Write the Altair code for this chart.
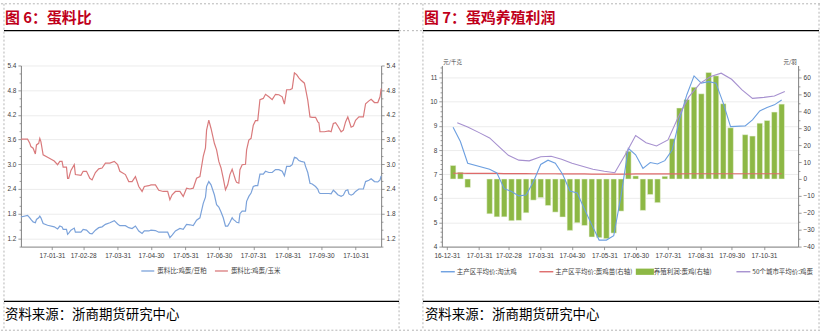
import altair as alt
import pandas as pd

# ---------------- Figure 6: 蛋料比 (daily) ----------------
L_dates = ["2017-01-03","2017-01-09","2017-01-11","2017-01-12","2017-01-14","2017-01-16","2017-01-17","2017-01-19","2017-01-20","2017-01-21",
           "2017-01-23","2017-01-27","2017-02-02","2017-02-05","2017-02-07","2017-02-09","2017-02-10","2017-02-13","2017-02-14","2017-02-15",
           "2017-02-17","2017-02-20","2017-02-21","2017-02-26","2017-02-28","2017-03-03","2017-03-06","2017-03-08","2017-03-11","2017-03-14",
           "2017-03-17","2017-03-20","2017-03-24","2017-03-28","2017-03-31","2017-04-02","2017-04-07","2017-04-10","2017-04-13","2017-04-16",
           "2017-04-19","2017-04-22","2017-04-24","2017-04-28","2017-04-30","2017-05-04","2017-05-07","2017-05-11","2017-05-15","2017-05-17",
           "2017-05-19","2017-05-22","2017-05-26","2017-05-29","2017-06-01","2017-06-04","2017-06-07","2017-06-10","2017-06-13","2017-06-16",
           "2017-06-18","2017-06-19","2017-06-21","2017-06-23","2017-06-26","2017-06-28","2017-06-30","2017-07-02","2017-07-04","2017-07-06",
           "2017-07-08","2017-07-10","2017-07-12","2017-07-13","2017-07-15","2017-07-16","2017-07-18","2017-07-19","2017-07-21","2017-07-24",
           "2017-07-25","2017-07-27","2017-07-29","2017-07-31","2017-08-02","2017-08-04","2017-08-06","2017-08-09","2017-08-11","2017-08-14",
           "2017-08-17","2017-08-20","2017-08-23","2017-08-26","2017-08-28","2017-08-30","2017-09-02","2017-09-04","2017-09-06","2017-09-08",
           "2017-09-10","2017-09-12","2017-09-15","2017-09-16","2017-09-18","2017-09-20","2017-09-22","2017-09-25","2017-09-27","2017-09-28",
           "2017-09-29","2017-10-03","2017-10-07","2017-10-09","2017-10-11","2017-10-13","2017-10-15","2017-10-18","2017-10-20","2017-10-22",
           "2017-10-24","2017-10-25","2017-10-27","2017-10-29","2017-10-31","2017-11-03","2017-11-07","2017-11-09","2017-11-12","2017-11-14",
           "2017-11-17","2017-11-20","2017-11-22","2017-11-23"]
# 蛋料比:鸡蛋/豆粕
L_meal = [1.72,1.76,1.70,1.66,1.60,1.58,1.66,1.70,1.74,1.70,
          1.56,1.52,1.48,1.43,1.50,1.48,1.42,1.42,1.30,1.33,
          1.40,1.45,1.35,1.35,1.42,1.40,1.32,1.31,1.40,1.46,
          1.48,1.54,1.58,1.63,1.55,1.51,1.51,1.46,1.44,1.50,
          1.38,1.32,1.38,1.38,1.40,1.39,1.35,1.35,1.35,1.22,
          1.28,1.38,1.44,1.42,1.54,1.53,1.51,1.64,1.70,2.05,
          2.20,2.46,2.58,2.50,2.26,2.02,1.96,1.84,1.70,1.50,
          1.50,1.59,1.70,1.66,1.62,1.59,1.58,1.80,1.86,1.86,
          2.10,2.22,2.30,2.46,2.48,2.48,2.76,2.76,2.83,2.80,
          2.80,2.87,2.87,2.83,2.72,2.95,2.95,2.99,3.17,3.15,
          3.09,3.07,3.05,2.95,2.80,2.54,2.52,2.46,2.40,2.32,
          2.29,2.29,2.29,2.28,2.37,2.32,2.26,2.22,2.25,2.36,
          2.38,2.28,2.25,2.28,2.34,2.40,2.40,2.58,2.61,2.65,
          2.58,2.57,2.62,2.72]
# 蛋料比:鸡蛋/玉米
L_corn = [3.61,3.61,3.51,3.43,3.39,3.25,3.47,3.51,3.63,3.55,
          3.23,3.17,3.08,2.99,3.07,3.07,2.93,2.93,2.66,2.66,
          2.85,2.99,2.75,2.73,2.83,2.83,2.66,2.62,2.80,2.89,
          2.91,3.03,3.03,3.07,2.99,2.83,2.75,2.58,2.58,2.70,
          2.46,2.34,2.46,2.48,2.50,2.50,2.37,2.34,2.34,2.14,
          2.26,2.34,2.34,2.22,2.42,2.40,2.42,2.66,2.70,3.19,
          3.40,3.83,4.07,3.87,3.51,3.35,3.07,2.91,2.66,2.38,
          2.50,2.75,2.88,2.79,2.62,2.56,2.54,2.87,2.99,3.00,
          3.35,3.59,3.63,3.95,4.06,4.06,4.57,4.60,4.70,4.64,
          4.57,4.70,4.69,4.64,4.46,4.81,4.81,4.84,5.22,5.18,
          5.10,5.04,4.97,4.84,4.56,4.15,4.14,4.14,4.03,4.01,
          3.79,3.79,3.81,3.79,3.99,4.01,3.93,3.79,3.83,4.03,
          4.15,4.07,3.90,3.93,4.07,4.15,4.15,4.47,4.54,4.58,
          4.50,4.50,4.64,4.84]

# ---------------- Figure 7: 蛋鸡养殖利润 ----------------
W_dates = ["2017-01-06","2017-01-13","2017-01-20","2017-02-10","2017-02-17","2017-02-24","2017-03-03","2017-03-10","2017-03-17","2017-03-24",
           "2017-03-31","2017-04-07","2017-04-14","2017-04-21","2017-04-28","2017-05-05","2017-05-12","2017-05-19","2017-05-26","2017-06-02",
           "2017-06-09","2017-06-16","2017-06-23","2017-06-30","2017-07-07","2017-07-14","2017-07-21","2017-07-28","2017-08-04","2017-08-11",
           "2017-08-18","2017-08-25","2017-09-01","2017-09-08","2017-09-15","2017-09-22","2017-09-29","2017-10-13","2017-10-20","2017-10-27",
           "2017-11-03","2017-11-10","2017-11-17"]
# 养殖利润:蛋鸡(右轴)
W_profit = [8.0,4.0,-5.0,-20.6,-22.4,-22.4,-24.7,-24.5,-20.0,-12.5,
            -11.0,-15.7,-19.6,-22.5,-30.4,-25.9,-27.5,-34.3,-34.7,-35.3,
            -32.0,-19.0,16.4,1.8,-18.6,-9.2,-14.0,1.6,23.8,42.0,
            47.0,54.3,50.4,63.0,61.0,44.5,30.3,26.2,25.4,33.0,
            34.6,39.6,44.3]
# 主产区平均价:淘汰鸡
W_hen = [8.94,8.35,7.45,7.20,7.05,6.40,6.28,6.10,6.14,6.69,
         7.40,7.58,7.45,7.00,6.30,6.22,5.55,4.90,4.27,4.27,
         4.45,6.10,8.07,7.80,7.24,7.48,7.42,7.56,8.00,9.25,
         10.28,11.07,10.77,10.83,10.77,9.94,8.97,9.00,9.25,9.62,
         9.76,9.87,10.07]
# 主产区平均价:蛋鸡苗(右轴)
W_chick = [3.4,3.4,3.3,3.3,3.3,3.2,3.2,3.2,3.2,3.1,
           3.1,3.1,3.1,3.0,3.0,3.0,3.0,2.9,2.9,2.9,
           2.9,2.9,2.9,3.0,3.0,3.0,3.0,3.0,3.0,3.0,
           3.1,3.1,3.1,3.1,3.1,3.1,3.1,3.1,3.1,3.1,
           3.1,3.1,3.1]
# 50个城市平均价:鸡蛋 (10-day)
E_dates = ["2017-01-10","2017-01-20","2017-01-31","2017-02-10","2017-02-20","2017-02-28","2017-03-10","2017-03-20","2017-03-31","2017-04-10",
           "2017-04-20","2017-04-30","2017-05-10","2017-05-20","2017-05-31","2017-06-10","2017-06-20","2017-06-30","2017-07-10","2017-07-20",
           "2017-07-31","2017-08-10","2017-08-20","2017-08-31","2017-09-10","2017-09-20","2017-09-30","2017-10-10","2017-10-20","2017-10-31",
           "2017-11-10","2017-11-20"]
E_egg = [9.13,8.95,8.72,8.50,8.10,7.78,7.58,7.55,7.72,7.74,
         7.62,7.45,7.33,7.20,7.12,7.06,7.80,8.60,8.30,8.17,
         8.42,9.38,10.20,10.77,11.04,11.18,10.93,10.49,10.14,10.18,
         10.24,10.42]

# tick labels
X_ticks_L = ["2017-01-31","2017-02-28","2017-03-31","2017-04-30","2017-05-31","2017-06-30","2017-07-31","2017-08-31","2017-09-30","2017-10-31"]
X_ticks_R = ["2016-12-31"] + X_ticks_L

S_MEAL = "蛋料比:鸡蛋/豆粕"
S_CORN = "蛋料比:鸡蛋/玉米"
S_HEN = "主产区平均价:淘汰鸡"
S_CHICK = "主产区平均价:蛋鸡苗(右轴)"
S_PROFIT = "养殖利润:蛋鸡(右轴)"
S_EGG = "50个城市平均价:鸡蛋"

C_MEAL, C_CORN = "#7BA2DA", "#D97A7C"
C_HEN, C_CHICK, C_PROFIT, C_EGG = "#6C9FE0", "#DE6A6A", "#8DB845", "#A690CF"

NUM_FONT = "Liberation Sans"
CJK = "Noto Sans CJK SC"


def dt(s):
    y, m, d = (int(v) for v in s.split("-"))
    return alt.DateTime(year=y, month=m, date=d, utc=True)


# tick positions (major + minor)
Y_ticks_L = [round(1.0 + 0.2 * i, 1) for i in range(23)]
Y_ticks_R1 = [round(4.0 + 0.2 * i, 1) for i in range(38)]
Y_ticks_R2 = [-40 + 5 * i for i in range(22)]

axis_common = dict(labelFont=NUM_FONT, labelFontSize=6.5, labelColor="#404040",
                   domainColor="#7f7f7f", tickColor="#7f7f7f", domainWidth=1, tickWidth=0.8,
                   labelOverlap=False)


def y_axis(orient, ticks, test, fmt, grid, **kw):
    return alt.Axis(orient=orient, values=ticks,
                    labelExpr=f"({test}) ? format(datum.value, '{fmt}') : ''",
                    tickSize={"condition": {"test": test, "value": 3}, "value": 1.8},
                    grid=grid,
                    gridOpacity={"condition": {"test": test, "value": 1}, "value": 0},
                    gridColor="#ececec", gridWidth=1, labelPadding=2,
                    **axis_common, **kw)


def x_axis(ticks):
    return alt.Axis(values=[dt(s) for s in ticks], labelExpr="utcFormat(datum.value, '%y-%m-%d')",
                    title=None, tickSize=3, labelPadding=3, labelFlush=False, grid=False,
                    **axis_common)


test_L = "abs((datum.value-1.2)/0.6 - round((datum.value-1.2)/0.6)) < 0.001"
test_R1 = "abs(datum.value - round(datum.value)) < 0.001"
test_R2 = "abs(datum.value/10 - round(datum.value/10)) < 0.001"

one = pd.DataFrame({"k": [0]})


def hline(ox, oy, x1, x2, y, color, width=1.0, dash=None, opacity=1.0):
    mk = dict(color=color, strokeWidth=width, opacity=opacity)
    if dash:
        mk["strokeDash"] = dash
    return alt.Chart(one).mark_rule(**mk).encode(
        x=alt.value(x1 - ox), x2=alt.value(x2 - ox), y=alt.value(y - oy))


def vline(ox, oy, x, y1, y2, color, width=1.0, dash=None):
    mk = dict(color=color, strokeWidth=width)
    if dash:
        mk["strokeDash"] = dash
    return alt.Chart(one).mark_rule(**mk).encode(
        x=alt.value(x - ox), y=alt.value(y1 - oy), y2=alt.value(y2 - oy))


def label(ox, oy, x, y, text, size, color, weight="normal", baseline="alphabetic", font=CJK):
    return alt.Chart(one).mark_text(text=text, align="left", baseline=baseline, fontSize=size,
                                    fontWeight=weight, color=color, font=font).encode(
        x=alt.value(x - ox), y=alt.value(y - oy))


def decorations(ox, oy, cx0, cx1, border_left, border_right, gap_x0, gap_x1, title, title_x, src_x):
    dash_c = "#b4b4b4"
    d = [2, 2]
    return [
        hline(ox, oy, cx0, cx1, 0, "#ffffff", opacity=0),
        hline(ox, oy, cx0, cx1, 333, "#ffffff", opacity=0),
        hline(ox, oy, cx0, cx1, 3, dash_c, dash=d),
        hline(ox, oy, cx0, cx1, 331, dash_c, dash=d),
        hline(ox, oy, gap_x0, gap_x1, 30, dash_c, dash=d),
        vline(ox, oy, border_left, 3, 331, dash_c, dash=d),
        vline(ox, oy, border_right, 3, 331, dash_c, dash=d),
        hline(ox, oy, border_left, border_right, 30, "#000000", width=1.3),
        hline(ox, oy, border_left, border_right, 302, "#000000", width=1.3),
        label(ox, oy, title_x, 22, title, 15, "#C0001A", weight="bold"),
        label(ox, oy, src_x, 316, "资料来源：浙商期货研究中心", 13.5, "#000000", baseline="middle"),
    ]


# ---------------- Left panel ----------------
nL = len(L_dates)
dfL = pd.DataFrame({"date": L_dates * 2, "value": L_meal + L_corn,
                    "series": [S_MEAL] * nL + [S_CORN] * nL})

xL = alt.X("date:T", scale=alt.Scale(type="utc", domain=[dt("2017-01-03"), dt("2017-11-23")]),
           axis=x_axis(X_ticks_L))
yscaleL = alt.Scale(domain=[1.0, 5.4], nice=False, zero=False)

linesL = alt.Chart(dfL).mark_line(strokeWidth=1.2).encode(
    x=xL,
    y=alt.Y("value:Q", scale=yscaleL, axis=y_axis("left", Y_ticks_L, test_L, ".1f", True, title=None)),
    color=alt.Color("series:N", scale=alt.Scale(domain=[S_MEAL, S_CORN], range=[C_MEAL, C_CORN]),
                    legend=alt.Legend(title=None, orient="none", legendX=120, legendY=199,
                                      direction="horizontal", symbolType="stroke", symbolSize=170,
                                      symbolStrokeWidth=1.3, labelFontSize=6.5, labelFont=CJK,
                                      labelColor="#404040", columnPadding=5, labelOffset=2,
                                      padding=0, labelLimit=0)),
    detail="series:N",
)
axisRL = alt.Chart(dfL).mark_line(strokeOpacity=0).encode(
    x=xL,
    y=alt.Y("value:Q", scale=yscaleL, axis=y_axis("right", Y_ticks_L, test_L, ".1f", False, title=None)),
    detail="series:N",
)

oxL, oyL = 20, 65
panelL = alt.layer(
    linesL, axisRL,
    *decorations(oxL, oyL, 0, 411, 3, 400, 400, 411, "图 6：蛋料比", 4, 4),
).resolve_scale(y="independent").properties(width=362, height=182)

# ---------------- Right panel ----------------
dfW = pd.DataFrame({"date": W_dates, "profit": W_profit, "hen": W_hen, "chick": W_chick})
dfE = pd.DataFrame({"date": E_dates, "egg": E_egg})
order = [S_HEN, S_CHICK, S_PROFIT, S_EGG]
colorR = alt.Scale(domain=order, range=[C_HEN, C_CHICK, C_PROFIT, C_EGG])

xR = alt.X("date:T", scale=alt.Scale(type="utc", domain=[dt("2016-12-31"), dt("2017-11-28")]),
           axis=x_axis(X_ticks_R))
scaleR1 = alt.Scale(domain=[4, 11.5], nice=False, zero=False)
scaleR2 = alt.Scale(domain=[-40, 67.14], nice=False, zero=False)

unit_title = dict(titleAngle=0, titleFont=CJK, titleFontSize=5.5, titleFontWeight="normal",
                  titleColor="#404040", titleBaseline="bottom", titleY=-0.5)

LINE_SYM = "M-1,-0.1H1V0.1H-1Z"
BOX_SYM = "M-1.3,-0.45H1.3V0.45H-1.3Z"
legR = alt.Legend(title=None, orient="none", legendX=-1, legendY=200, direction="horizontal",
                  symbolType=alt.ExprRef(expr=f"datum.value === '{S_PROFIT}' ? '{BOX_SYM}' : '{LINE_SYM}'"),
                  symbolSize=196, symbolStrokeWidth=0, symbolOpacity=1,
                  labelFontSize=6.5, labelFont=CJK, gridAlign="all",
                  labelColor="#404040", columnPadding=2, labelOffset=2, padding=0, labelLimit=0)

bars = alt.Chart(dfW).transform_calculate(series=f"'{S_PROFIT}'").mark_bar(
    size=5.6, stroke="#eef4e4", strokeWidth=0.5).encode(
    x=xR,
    y=alt.Y("profit:Q", scale=scaleR2,
            axis=y_axis("right", Y_ticks_R2, test_R2, "d", False, title="元/羽",
                        titleX=-2, titleAlign="right", **unit_title)),
    color=alt.Color("series:N", scale=colorR, legend=legR),
)
chick = alt.Chart(dfW).transform_calculate(series=f"'{S_CHICK}'").mark_line(strokeWidth=1.2).encode(
    x=xR,
    y=alt.Y("chick:Q", scale=scaleR2, axis=None),
    color=alt.Color("series:N", scale=colorR, legend=None),
)
hen = alt.Chart(dfW).transform_calculate(series=f"'{S_HEN}'").mark_line(strokeWidth=1.1).encode(
    x=xR,
    y=alt.Y("hen:Q", scale=scaleR1,
            axis=y_axis("left", Y_ticks_R1, test_R1, "d", True, title="元/千克",
                        titleX=1, titleAlign="left", **unit_title)),
    color=alt.Color("series:N", scale=colorR, legend=None),
)
egg = alt.Chart(dfE).transform_calculate(series=f"'{S_EGG}'").mark_line(strokeWidth=1.1).encode(
    x=xR,
    y=alt.Y("egg:Q", scale=scaleR1, axis=None),
    color=alt.Color("series:N", scale=colorR, legend=None),
)

oxR, oyR = 441, 65
panelR = alt.layer(
    bars, chick, hen, egg,
    *decorations(oxR, oyR, 411, 823, 422, 820, 411, 422, "图 7：蛋鸡养殖利润", 423, 424),
).resolve_scale(y="independent").properties(width=358, height=182)

chart = alt.hconcat(panelL, panelR, spacing=0).resolve_scale(
    color="independent"
).properties(padding=0, background="#ffffff").configure_view(strokeWidth=0)

chart.save("out.html", embed_options={"renderer": "svg", "actions": False})
